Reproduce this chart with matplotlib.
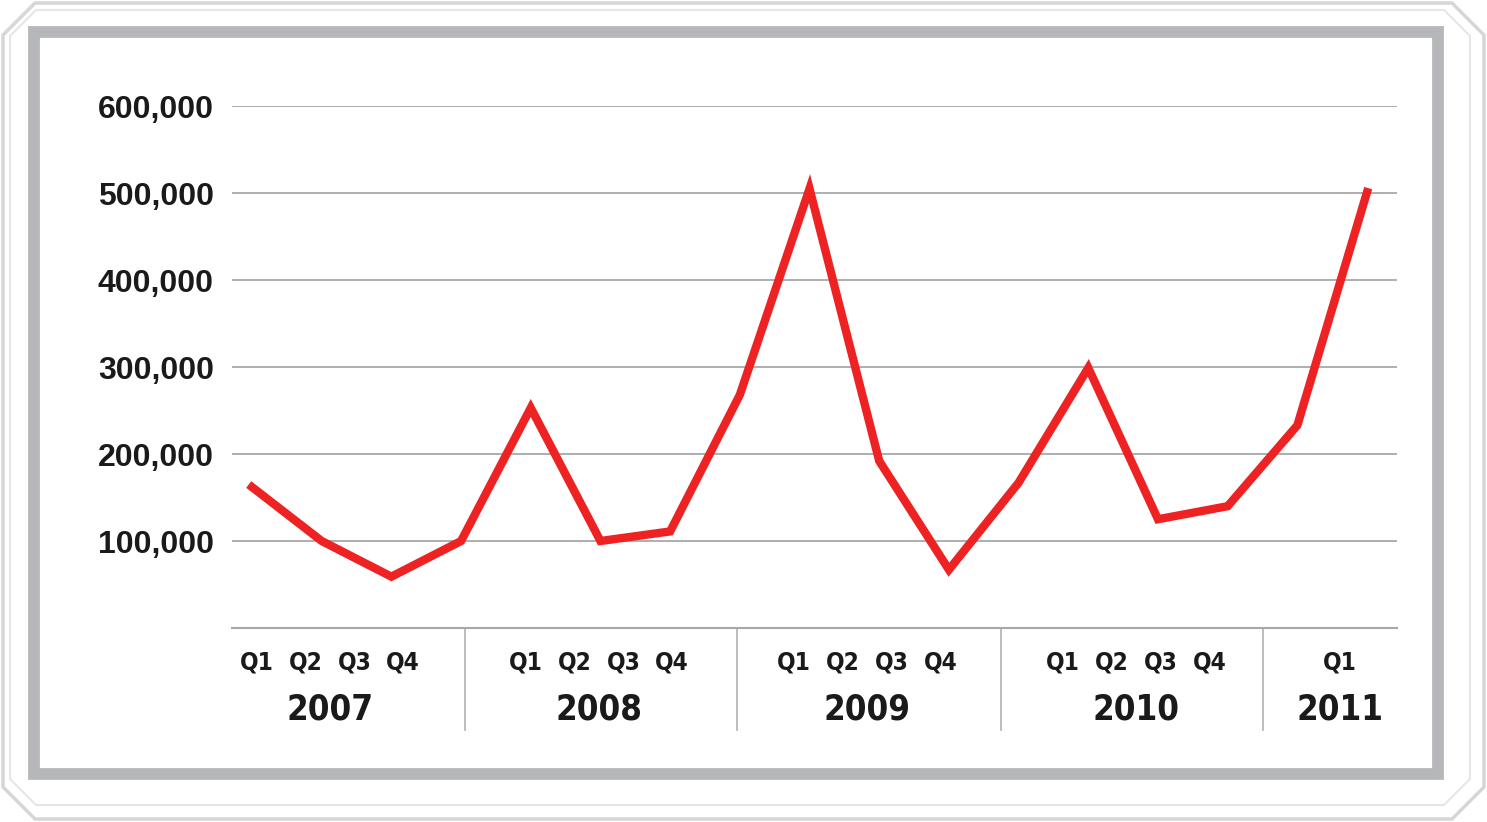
import matplotlib.pyplot as plt
import matplotlib.patches as mpatches
from matplotlib.lines import Line2D
import matplotlib.transforms as mtransforms

# Datos trimestrales (2007 Q1 ... 2011 Q1)
valores = [162000, 100000, 59000, 100000, 253000, 100000, 111000, 268000,
           505000, 192000, 67000, 167000, 299000, 125000, 140000, 233000, 501000]
anios = ["2007", "2008", "2009", "2010", "2011"]
trimestres = [["Q1", "Q2", "Q3", "Q4"], ["Q1", "Q2", "Q3", "Q4"],
              ["Q1", "Q2", "Q3", "Q4"], ["Q1", "Q2", "Q3", "Q4"], ["Q1"]]
yticks = [100000, 200000, 300000, 400000, 500000, 600000]

# posiciones de las etiquetas (en unidades del eje x)
inicio_grupo = [0.07, 3.93, 7.78, 11.64, 15.61]
paso_q = 0.70
separadores = [3.06, 6.96, 10.75, 14.51]

W, H = 1487, 822
fig = plt.figure(figsize=(W / 100, H / 100), dpi=100)
fig.patch.set_facecolor("white")

# marco exterior con esquinas cortadas
def chaflan(x0, y0, x1, y1, c):
    pts = [(x0 + c, y0), (x1 - c, y0), (x1, y0 + c), (x1, y1 - c),
           (x1 - c, y1), (x0 + c, y1), (x0, y1 - c), (x0, y0 + c)]
    return [(px / W, 1 - py / H) for px, py in pts]

fig.patches.append(mpatches.Polygon(chaflan(3, 3, 1484, 819, 32), closed=True,
                                    fill=False, edgecolor="#d6d6d6", lw=2.5,
                                    transform=fig.transFigure))
fig.patches.append(mpatches.Polygon(chaflan(10, 10, 1470, 805, 26), closed=True,
                                    fill=False, edgecolor="#e6e6e6", lw=1.5,
                                    transform=fig.transFigure))
# marco gris grueso
fig.patches.append(mpatches.Rectangle((34 / W, 1 - 774 / H), (1438 - 34) / W, (774 - 32) / H,
                                      fill=False, edgecolor="#b6b7ba", lw=8.5,
                                      transform=fig.transFigure))

ax = fig.add_axes([232 / W, 1 - 628 / H, (1397 - 232) / W, (628 - 106) / H])
ax.set_facecolor("none")

x = list(range(len(valores)))
ax.plot(x, valores, color="#ee2222", lw=6, solid_joinstyle="miter", zorder=3, clip_on=False)

ax.set_xlim(-0.287, 16.43)
ax.set_ylim(0, 600000)
ax.set_yticks(yticks)
ax.set_yticklabels([f"{v:,}" for v in yticks], fontsize=23, fontweight="bold",
                   family=["Liberation Sans", "DejaVu Sans"], color="#1a1a1a")
ax.tick_params(axis="y", length=0, pad=13)
ax.set_xticks([])
ax.grid(axis="y", color="#a8a8a8", lw=1.3)
for s in ["top", "right", "left"]:
    ax.spines[s].set_visible(False)
ax.spines["bottom"].set_color("#a8a8a8")
ax.spines["bottom"].set_linewidth(1.5)

trans = mtransforms.blended_transform_factory(ax.transData, ax.transAxes)
fuente = ["DejaVu Sans"]
for ini, anio, qs in zip(inicio_grupo, anios, trimestres):
    for i, q in enumerate(qs):
        ax.text(ini + i * paso_q, -0.067, q, transform=trans, ha="center", va="center",
                fontsize=17.5, fontweight="bold", family=fuente, fontstretch="condensed",
                color="#1a1a1a")
    centro = ini + (len(qs) - 1) * paso_q / 2
    ax.text(centro, -0.157, anio, transform=trans, ha="center", va="center",
            fontsize=25, fontweight="bold", family=fuente, fontstretch="condensed",
            color="#1a1a1a")

for sx in separadores:
    ax.add_line(Line2D([sx, sx], [0, -0.195], transform=trans, color="#b0b0b0",
                       lw=1.2, clip_on=False))

fig.savefig("out.png", dpi=100)
